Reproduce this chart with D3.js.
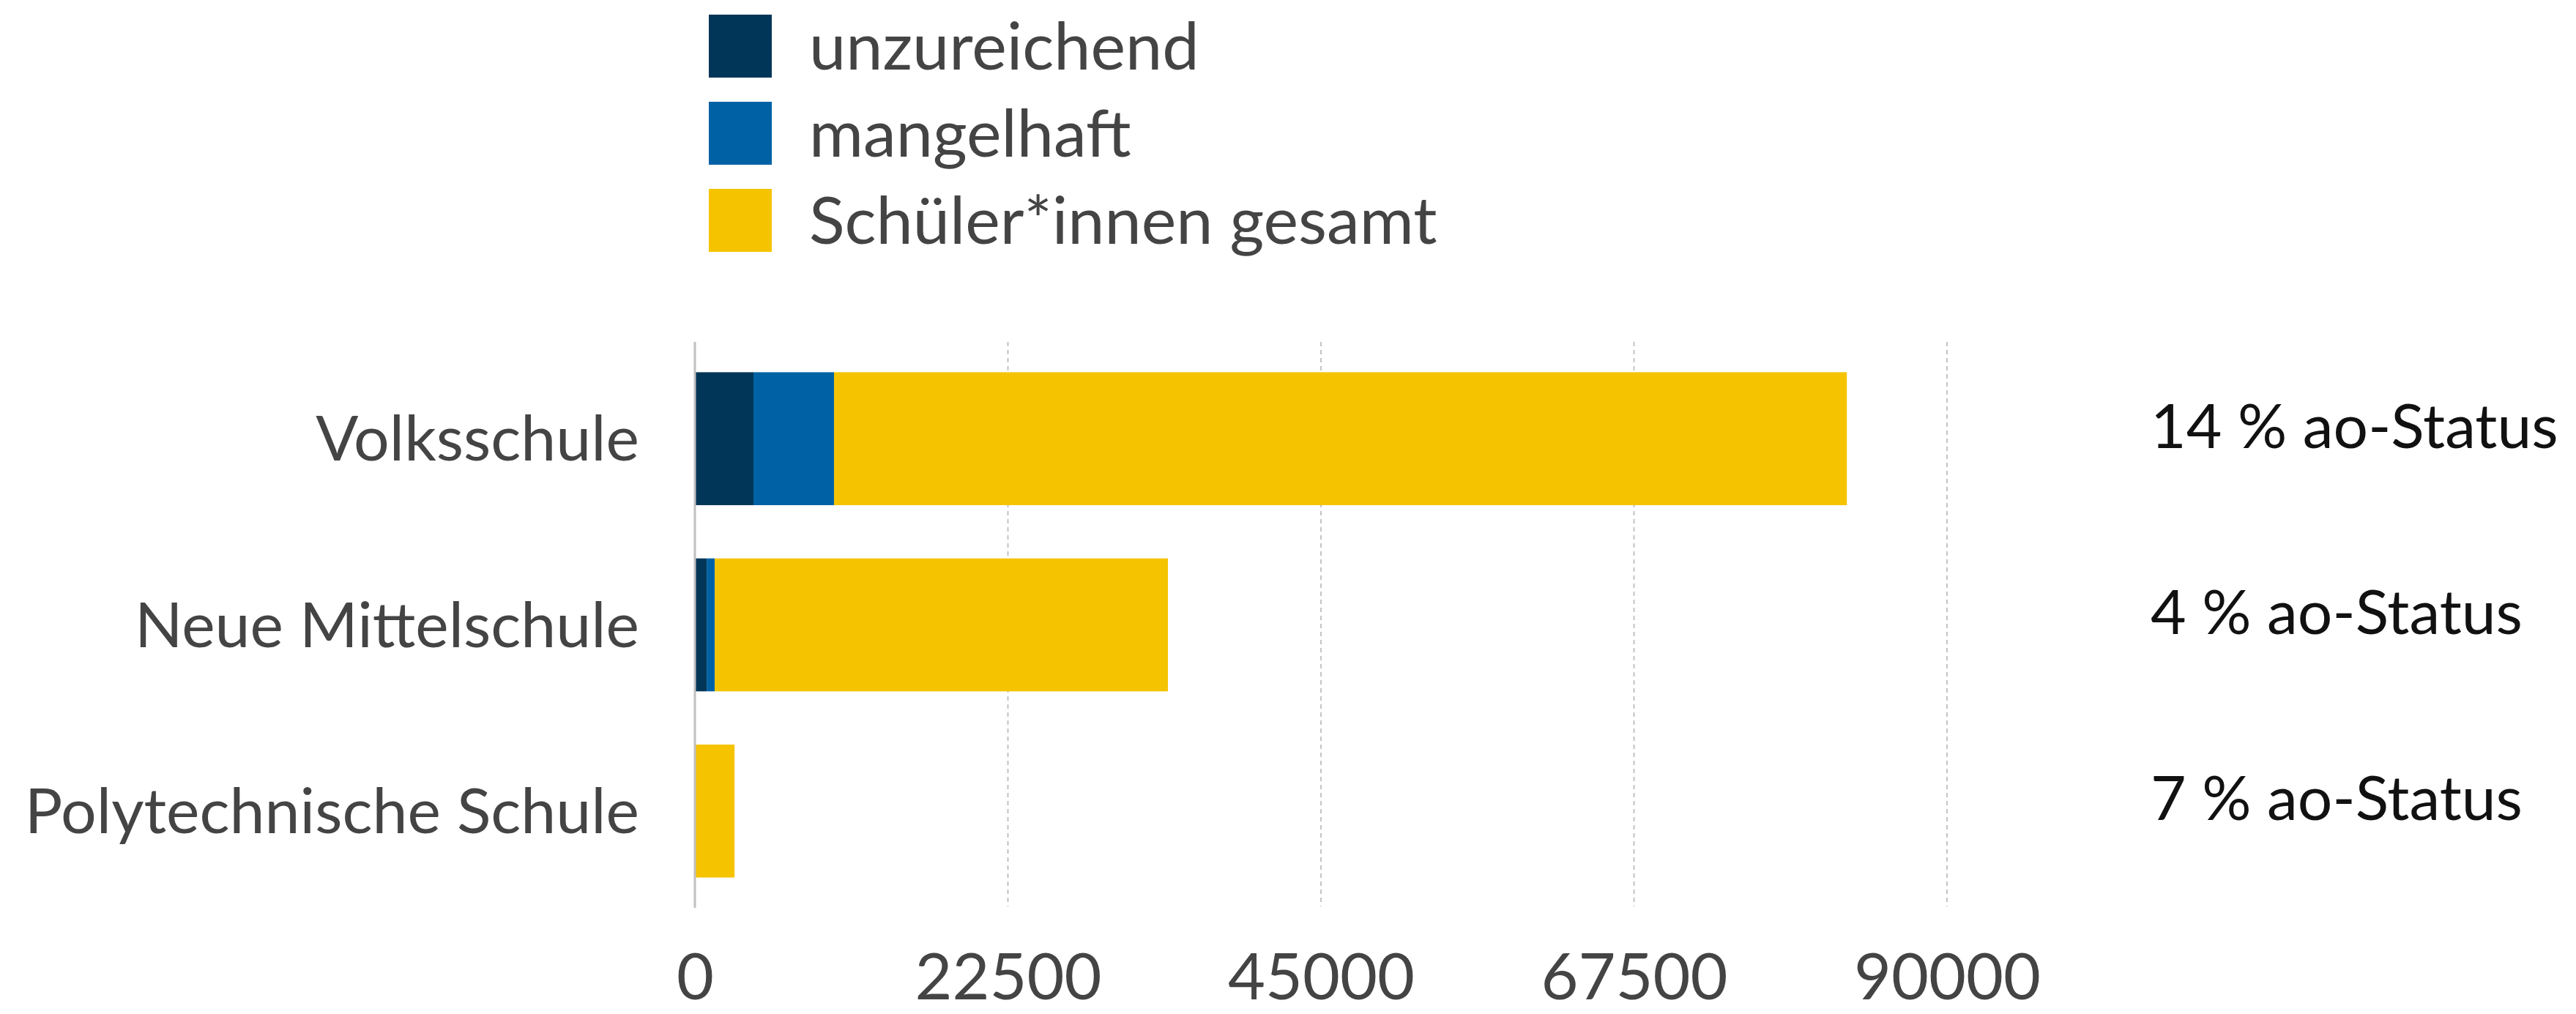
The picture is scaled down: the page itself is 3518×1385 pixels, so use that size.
<!DOCTYPE html>
<html>
<head>
<meta charset="utf-8">
<script src="https://cdn.jsdelivr.net/npm/d3@7"></script>
<style>
  html, body { margin: 0; padding: 0; background: #fff; }
  svg { display: block; }
  text { font-family: Lato, "Open Sans", sans-serif; }
</style>
</head>
<body>
<script>
const categories = ["Volksschule", "Neue Mittelschule", "Polytechnische Schule"];
const seriesNames = ["unzureichend", "mangelhaft", "Schüler*innen gesamt"];
const unzureichend = [4210, 850, 0];
const mangelhaft = [5790, 580, 0];
const gesamt = [72800, 32570, 2850];
const aoLabels = ["14 % ao-Status", "4 % ao-Status", "7 % ao-Status"];
const tickValues = [0, 22500, 45000, 67500, 90000];
const colors = ["#023658", "#0062A5", "#F5C300"];

const W = 3518, H = 1385;
const svg = d3.select("body").append("svg").attr("width", W).attr("height", H);

const x = d3.scaleLinear().domain([0, 90000]).range([949, 2659]);
const y = d3.scaleBand().domain(categories).range([469, 1238])
  .paddingInner(0.286).paddingOuter(0.155);

const rows = categories.map((c, i) => ({
  cat: c, unzureichend: unzureichend[i], mangelhaft: mangelhaft[i], gesamt: gesamt[i]
}));
const stack = d3.stack().keys(["unzureichend", "mangelhaft", "gesamt"]);
const layers = stack(rows);

// gridlines
svg.append("g").selectAll("line")
  .data(tickValues.filter(t => t !== 0))
  .join("line")
  .attr("x1", d => x(d)).attr("x2", d => x(d))
  .attr("y1", 467).attr("y2", 1238)
  .attr("stroke", "#bdbdbd").attr("stroke-width", 1.8)
  .attr("stroke-dasharray", "6,5");

// bars
svg.append("g").selectAll("g")
  .data(layers)
  .join("g")
  .attr("fill", (d, i) => colors[i])
  .selectAll("rect")
  .data(d => d)
  .join("rect")
  .attr("x", d => x(d[0]))
  .attr("width", d => Math.max(0, x(d[1]) - x(d[0])))
  .attr("y", d => y(d.data.cat))
  .attr("height", y.bandwidth());

// zero axis line
svg.append("line")
  .attr("x1", x(0)).attr("x2", x(0))
  .attr("y1", 467).attr("y2", 1240)
  .attr("stroke", "#c0c0c0").attr("stroke-width", 3);

// x axis tick labels
const xAxis = d3.axisBottom(x).tickValues(tickValues).tickSize(0).tickPadding(0)
  .tickFormat(d3.format("d"));
const gx = svg.append("g").attr("transform", "translate(0,1238)").call(xAxis);
gx.select(".domain").remove();
gx.selectAll("text")
  .attr("y", 127).attr("dy", null)
  .attr("font-size", 88).attr("fill", "#444")
  .attr("font-family", "Lato, sans-serif");

// category labels
const yAxis = d3.axisLeft(y).tickSize(0).tickPadding(0);
const gy = svg.append("g").attr("transform", "translate(873,0)").call(yAxis);
gy.select(".domain").remove();
gy.selectAll("text")
  .attr("x", 0).attr("dy", "0.35em")
  .attr("text-anchor", "end")
  .attr("font-size", 86).attr("fill", "#444")
  .attr("font-family", "Lato, sans-serif");

// right ao-status labels
svg.append("g").selectAll("text")
  .data(categories)
  .join("text")
  .attr("x", 2937)
  .attr("y", d => y(d) + y.bandwidth() / 2)
  .attr("dy", "0.15em")
  .attr("font-size", 84).attr("fill", "#111")
  .text((d, i) => aoLabels[i]);

// legend
const legend = svg.append("g").selectAll("g")
  .data(seriesNames)
  .join("g")
  .attr("transform", (d, i) => `translate(968,${20 + i * 119})`);
legend.append("rect").attr("width", 86).attr("height", 86)
  .attr("fill", (d, i) => colors[i]);
legend.append("text").attr("x", 137).attr("y", 43).attr("dy", "0.35em")
  .attr("font-size", 90).attr("fill", "#444")
  .text(d => d);
</script>
</body>
</html>
